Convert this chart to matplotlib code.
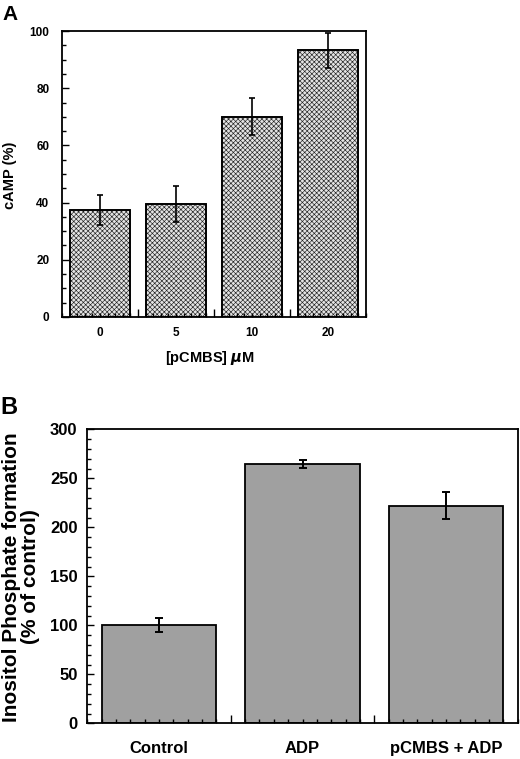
import numpy as np
import matplotlib
matplotlib.use("Agg")
import matplotlib.pyplot as plt
from matplotlib.ticker import MultipleLocator

plt.rcParams['font.family'] = ['Liberation Sans', 'DejaVu Sans']
plt.rcParams['font.weight'] = 'bold'
plt.rcParams['hatch.linewidth'] = 0.45

# panel A data
conc_labels = ['0', '5', '10', '20']
camp = [37.3, 39.5, 70.0, 93.2]
camp_err = [5.2, 6.4, 6.5, 6.2]

# panel B data
groups = ['Control', 'ADP', 'pCMBS + ADP']
ip_form = [100, 264.5, 222]
ip_err = [7, 4.4, 13.6]

W, H = 520, 759
fig = plt.figure(figsize=(W / 100, H / 100), dpi=100)


def box(l, t, r, b):
    return [l / W, 1 - b / H, (r - l) / W, (b - t) / H]


def style_axis(ax, n, ymajor, yminor, fs, ypad, xpad, tl):
    for s in ax.spines.values():
        s.set_linewidth(1.3)
    ax.set_xlim(-0.5, n - 0.5)
    ticks = []
    for i in range(n):
        ticks.append(i)
        if i < n - 1:
            ticks.append(i + 0.5)
    ax.set_xticks(ticks)
    ax.xaxis.set_minor_locator(MultipleLocator(0.1))
    ax.yaxis.set_major_locator(MultipleLocator(ymajor))
    ax.yaxis.set_minor_locator(MultipleLocator(yminor))
    ax.tick_params(axis='both', which='both', direction='in', top=False, right=False)
    ax.tick_params(axis='y', which='major', length=tl, width=1, pad=ypad, labelsize=fs)
    ax.tick_params(axis='y', which='minor', length=tl * 0.6, width=1)
    ax.tick_params(axis='x', which='major', length=tl * 0.6, width=1, pad=xpad)
    ax.tick_params(axis='x', which='minor', length=tl * 0.6, width=1)
    for k, t in enumerate(ax.xaxis.get_major_ticks()):
        if k % 2 == 1:
            t.tick1line.set_markersize(tl * 1.2)


# ---- A ----
axA = fig.add_axes(box(62, 31, 366, 317))
xa = np.arange(len(camp))
axA.bar(xa, camp, width=0.8, facecolor='#e4e4e4', edgecolor='#222222',
        hatch='xxxxxxx', linewidth=1.2, zorder=1)
axA.bar(xa, camp, width=0.8, facecolor='none', edgecolor='black', linewidth=1.3, zorder=1.2)
axA.errorbar(xa, camp, yerr=camp_err, fmt='none', ecolor='black', elinewidth=1.2,
             capsize=2, capthick=1.2, zorder=3)
axA.set_ylim(0, 100)
style_axis(axA, 4, 20, 5, 8.5, 9, 7, 5)
xl = []
for i, c in enumerate(conc_labels):
    xl += [c, ''] if i < 3 else [c]
axA.set_xticklabels(xl, fontsize=8.5)
fig.text(10 / W, 1 - 175 / H, 'cAMP (%)', rotation=90, ha='center', va='center', fontsize=10.5)
fig.text(210 / W, 1 - 358 / H, '[pCMBS] $\\mu$M', ha='center', va='center', fontsize=10.5)
fig.text(2 / W, 1 - 15 / H, 'A', ha='left', va='center', fontsize=15)

# ---- B ----
axB = fig.add_axes(box(87.3, 429.3, 517.7, 723.3))
xb = np.arange(len(ip_form))
axB.bar(xb, ip_form, width=0.8, color='#a0a0a0', edgecolor='black', linewidth=1.3, zorder=1)
axB.errorbar(xb, ip_form, yerr=ip_err, fmt='none', ecolor='black', elinewidth=1.4,
             capsize=3, capthick=1.4, zorder=3)
axB.set_ylim(0, 300)
style_axis(axB, 3, 50, 10, 12, 7, 13, 5)
xl = []
for i, g in enumerate(groups):
    xl += [g, ''] if i < 2 else [g]
axB.set_xticklabels(xl, fontsize=12)
fig.text(21 / W, 1 - 577 / H, 'Inositol Phosphate formation\n(% of control)', rotation=90,
         ha='center', va='center', fontsize=15, linespacing=0.95)
fig.text(0 / W, 1 - 407 / H, 'B', ha='left', va='center', fontsize=17)

fig.savefig('out.png', dpi=100)
